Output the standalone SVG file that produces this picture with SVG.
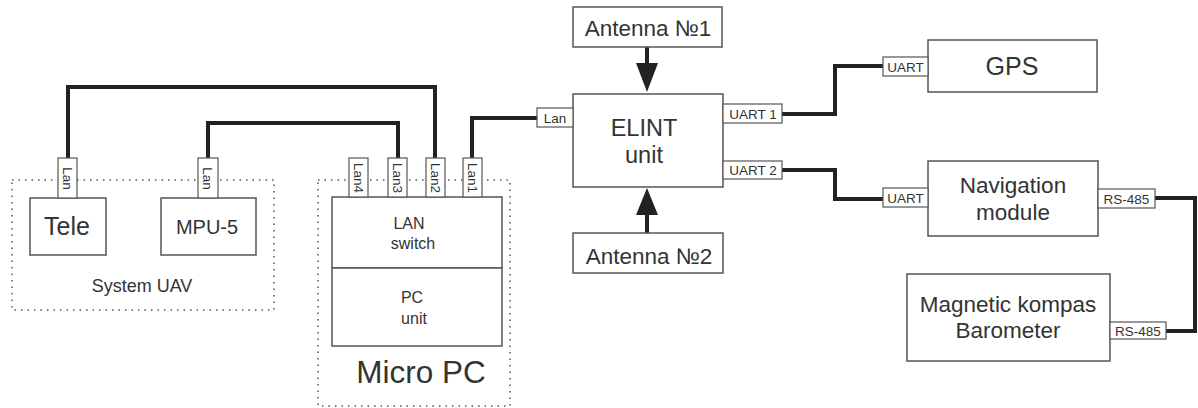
<svg xmlns="http://www.w3.org/2000/svg" width="1198" height="408" viewBox="0 0 1198 408">
<style>
.box{fill:#fff;stroke:#555;stroke-width:1.5}
.tab{fill:#fff;stroke:#555;stroke-width:1.2}
.dot{fill:none;stroke:#555;stroke-width:1.5;stroke-dasharray:1.5 5}
.wire{fill:none;stroke:#222;stroke-width:4;stroke-linejoin:miter}
text{font-family:"Liberation Sans",Arial,sans-serif;fill:#333;text-anchor:middle}
.t25{font-size:25px}
.t24{font-size:23.5px}
.t22{font-size:22.5px}
.t20{font-size:20px}
.t18{font-size:18px}
.t16{font-size:16px}
.t13{font-size:13.5px}
.t31{font-size:31.5px}
</style>
<rect width="1198" height="408" fill="#fff"/>
<g id="connectors">
<polyline class="wire" points="68,158 68,87 435,87 435,158"/>
<polyline class="wire" points="208,158 208,123 398,123 398,158"/>
<polyline class="wire" points="472,158 472,118 537,118"/>
<polyline class="wire" points="782,114 835,114 835,66 883,66"/>
<polyline class="wire" points="782,170 835,170 835,199 883,199"/>
<polyline class="wire" points="1155,198 1195,198 1195,331 1166,331"/>
<line x1="647" y1="47" x2="647" y2="64" stroke="#222" stroke-width="4"/>
<polygon points="636,63 658,63 647,92" fill="#222"/>
<line x1="647" y1="233" x2="647" y2="214" stroke="#222" stroke-width="4"/>
<polygon points="636,215 658,215 647,188" fill="#222"/>
</g>
<g id="system-uav">
<rect class="dot" x="12" y="180" width="262" height="130"/>
<text class="t18" x="142" y="292">System UAV</text>
</g>
<g id="tele">
<rect class="box" x="30" y="198" width="76" height="57"/>
<text class="t25" x="67" y="235">Tele</text>
<rect class="tab" x="58" y="158" width="19" height="40"/>
<text class="t13" transform="translate(67.5,178.5) rotate(90)" dy="0.35em">Lan</text>
</g>
<g id="mpu5">
<rect class="box" x="161" y="198" width="95" height="57"/>
<text class="t20" x="207" y="234">MPU-5</text>
<rect class="tab" x="198" y="158" width="20" height="40"/>
<text class="t13" transform="translate(208,178.5) rotate(90)" dy="0.35em">Lan</text>
</g>
<g id="micro-pc">
<rect class="dot" x="318" y="180" width="192" height="226"/>
<text class="t31" x="421" y="383">Micro PC</text>
</g>
<g id="lan-switch">
<rect class="box" x="332" y="197" width="170" height="71"/>
<text class="t16" x="409" y="229">LAN</text>
<text class="t16" x="413" y="249">switch</text>
<rect class="tab" x="349" y="158" width="19" height="39"/>
<text class="t13" transform="translate(358.5,178) rotate(90)" dy="0.35em">Lan4</text>
<rect class="tab" x="388" y="158" width="19" height="39"/>
<text class="t13" transform="translate(397.5,178) rotate(90)" dy="0.35em">Lan3</text>
<rect class="tab" x="426" y="158" width="19" height="39"/>
<text class="t13" transform="translate(435.5,178) rotate(90)" dy="0.35em">Lan2</text>
<rect class="tab" x="463" y="158" width="19" height="39"/>
<text class="t13" transform="translate(472.5,178) rotate(90)" dy="0.35em">Lan1</text>
</g>
<g id="pc-unit">
<rect class="box" x="332" y="268" width="170" height="78"/>
<text class="t16" x="412" y="303">PC</text>
<text class="t16" x="414" y="324">unit</text>
</g>
<g id="antenna1">
<rect class="box" x="573" y="7" width="149" height="40"/>
<text class="t22" x="648" y="36">Antenna №1</text>
</g>
<g id="antenna2">
<rect class="box" x="573" y="233" width="150" height="40"/>
<text class="t22" x="649" y="264">Antenna №2</text>
</g>
<g id="elint">
<rect class="box" x="573" y="94" width="150" height="93"/>
<text class="t24" x="644" y="136">ELINT</text>
<text class="t24" x="644" y="163">unit</text>
<rect class="tab" x="537" y="108" width="36" height="19"/>
<text class="t13" x="555" y="122.5">Lan</text>
<rect class="tab" x="723" y="104" width="59" height="19"/>
<text class="t13" x="753" y="118.5">UART 1</text>
<rect class="tab" x="723" y="161" width="59" height="18"/>
<text class="t13" x="753" y="175">UART 2</text>
</g>
<g id="gps">
<rect class="box" x="928" y="40" width="169" height="52"/>
<text class="t25" x="1012" y="75">GPS</text>
<rect class="tab" x="883" y="57" width="45" height="19"/>
<text class="t13" x="905.5" y="71.5">UART</text>
</g>
<g id="navigation">
<rect class="box" x="928" y="161" width="170" height="75"/>
<text class="t22" x="1013" y="193">Navigation</text>
<text class="t22" x="1013" y="220">module</text>
<rect class="tab" x="883" y="188" width="45" height="19"/>
<text class="t13" x="905.5" y="202.5">UART</text>
<rect class="tab" x="1098" y="189" width="57" height="19"/>
<text class="t13" x="1126.5" y="203.5">RS-485</text>
</g>
<g id="magnetic">
<rect class="box" x="907" y="274" width="203" height="87"/>
<text class="t22" x="1008" y="312">Magnetic kompas</text>
<text class="t22" x="1008" y="338">Barometer</text>
<rect class="tab" x="1110" y="322" width="56" height="17"/>
<text class="t13" x="1138" y="335.5">RS-485</text>
</g>
</svg>
